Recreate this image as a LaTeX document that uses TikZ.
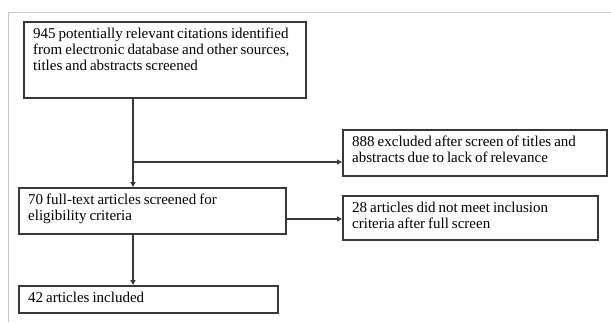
\documentclass[tikz,border=0pt]{standalone}
\usepackage{fontspec}
\setmainfont[WordSpace=0.8]{Liberation Serif}
\usetikzlibrary{arrows.meta}
\definecolor{boxline}{HTML}{383838}
\definecolor{frame}{HTML}{C8C8C8}
\begin{document}
\begin{tikzpicture}[x=1pt,y=-1pt,
  boxshape/.style={draw=boxline,line width=1.5pt,rectangle,inner sep=0pt,anchor=north west},
  boxtext/.style={anchor=base west,inner sep=0pt,align=left,font=\fontsize{15}{16.3}\selectfont,text=black},
  conn/.style={draw=boxline,line width=1.3pt,-{Triangle[length=5pt,width=5pt]}}]
\useasboundingbox (0,0) rectangle (611,322);
\draw[frame,line width=1pt] (8,322) -- (8,12) -- (611,12);
% boxes
\node[boxshape,minimum width=282pt,minimum height=76pt] (b1) at (23,21) {};
\node[boxshape,minimum width=264pt,minimum height=46pt] (b2) at (342,129) {};
\node[boxshape,minimum width=267pt,minimum height=46pt] (b3) at (18,187) {};
\node[boxshape,minimum width=255pt,minimum height=44pt] (b4) at (342,195) {};
\node[boxshape,minimum width=259pt,minimum height=27pt] (b5) at (18,285) {};
% texts (anchor at baseline of last line)
\node[boxtext] (t1) at (33,70.6) {945 potentially relevant citations identified\\from electronic database and other sources,\\titles and abstracts screened};
\node[boxtext] (t2) at (352,162.3) {888 excluded after screen of titles and\\abstracts due to lack of relevance};
\node[boxtext] (t3) at (28,220.3) {70 full-text articles screened for\\eligibility criteria};
\node[boxtext] (t4) at (352,228.3) {28 articles did not meet inclusion\\criteria after full screen};
\node[boxtext] (t5) at (28,302) {42 articles included};
% connectors
\coordinate (s1) at (133,97);
\coordinate (j1) at (133,162);
\draw[conn] (s1) -- (s1 |- b3.north);
\draw[conn] (j1) -- (j1 -| b2.west);
\draw[conn] (b3.east |- 0,219) -- (b4.west |- 0,219);
\coordinate (s3) at (133,233);
\draw[conn] (s3) -- (s3 |- b5.north);
\end{tikzpicture}
\end{document}
